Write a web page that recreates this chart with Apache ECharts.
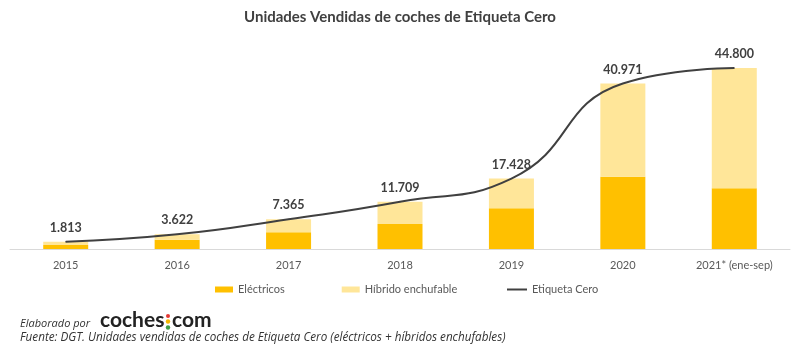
<!DOCTYPE html>
<html>
<head>
<meta charset="utf-8">
<script src="https://cdn.jsdelivr.net/npm/echarts@6/dist/echarts.min.js"></script>
<style>
html,body{margin:0;padding:0;background:#fff;}
#chart{width:800px;height:356px;}
</style>
</head>
<body>
<div id="chart"></div>
<script>
var categories = ['2015','2016','2017','2018','2019','2020','2021* (ene-sep)'];
var electricos = [1000, 2300, 4130, 6190, 10070, 17900, 15020];
var hibridos = [813, 1322, 3235, 5519, 7358, 23071, 29780];
var etiquetaCero = [1813, 3622, 7365, 11709, 17428, 40971, 44800];
var totalLabels = ['1.813','3.622','7.365','11.709','17.428','40.971','44.800'];

var FONT = 'Lato, "Open Sans", sans-serif';
var FOOT = '"Open Sans", Lato, sans-serif';
var chart = echarts.init(document.getElementById('chart'), null, {renderer:'canvas'});
chart.setOption({
  animation: false,
  backgroundColor: '#ffffff',
  textStyle: {fontFamily: FONT},
  title: {
    text: 'Unidades Vendidas de coches de Etiqueta Cero',
    left: 'center', top: 5,
    textStyle: {fontSize: 15, fontWeight: 'bold', color: '#404040', fontFamily: FONT}
  },
  legend: [{
    data: ['Eléctricos', 'Híbrido enchufable'],
    left: 210, top: 279,
    itemWidth: 18, itemHeight: 6, itemGap: 57,
    icon: 'rect',
    textStyle: {fontSize: 11, color: '#595959', fontFamily: FONT}
  }, {
    data: ['Etiqueta Cero'],
    left: 502, top: 279,
    itemWidth: 20, itemHeight: 2,
    icon: 'rect',
    textStyle: {fontSize: 11, color: '#595959', fontFamily: FONT}
  }],
  grid: {left: 10, right: 10, top: 47, bottom: 107, containLabel: false},
  xAxis: {
    type: 'category',
    data: categories,
    axisLine: {lineStyle: {color: '#d9d9d9'}},
    axisTick: {show: false},
    axisLabel: {fontSize: 11, color: '#595959', margin: 11, fontFamily: FONT}
  },
  yAxis: {
    type: 'value', min: 0, max: 50000, show: false,
    splitLine: {show: false}
  },
  series: [{
    name: 'Eléctricos', type: 'bar', stack: 'tot', barWidth: 45,
    data: electricos, itemStyle: {color: '#FFC000'}
  }, {
    name: 'Híbrido enchufable', type: 'bar', stack: 'tot', barWidth: 45,
    data: hibridos, itemStyle: {color: '#FFE699'}
  }, {
    name: 'Etiqueta Cero', type: 'line', smooth: 0.5,
    data: etiquetaCero,
    symbol: 'circle', symbolSize: 1, showSymbol: true,
    itemStyle: {color: '#404040'},
    lineStyle: {color: '#404040', width: 2},
    label: {
      show: true, position: 'top', distance: 7,
      fontSize: 12.5, fontWeight: 'bold', color: '#404040', fontFamily: FONT,
      formatter: function(p){ return totalLabels[p.dataIndex]; }
    },
    z: 5
  }],
  graphic: [
    {type:'text', left: 20, top: 318, style:{text:'Elaborado por', fontSize: 11, fontStyle:'italic', fill:'#333', fontFamily: FOOT}},
    {type:'text', left: 100, top: 310, style:{text:'coches', fontSize: 21, fontWeight:'bold', fill:'#222', fontFamily: FONT}},
    {type:'circle', shape:{cx:168, cy:316, r:2}, style:{fill:'#e53935'}},
    {type:'circle', shape:{cx:168, cy:321.5, r:2.2}, style:{fill:'#f6b800'}},
    {type:'circle', shape:{cx:168, cy:327.5, r:2.2}, style:{fill:'#43a047'}},
    {type:'text', left: 172, top: 310, style:{text:'com', fontSize: 21, fontWeight:'bold', fill:'#222', fontFamily: FONT}},
    {type:'text', left: 20, top: 332, style:{text:'Fuente: DGT. Unidades vendidas de coches de Etiqueta Cero (eléctricos + híbridos enchufables)', fontSize: 11.7, fontStyle:'italic', fill:'#333', fontFamily: FOOT}}
  ]
});
</script>
</body>
</html>
